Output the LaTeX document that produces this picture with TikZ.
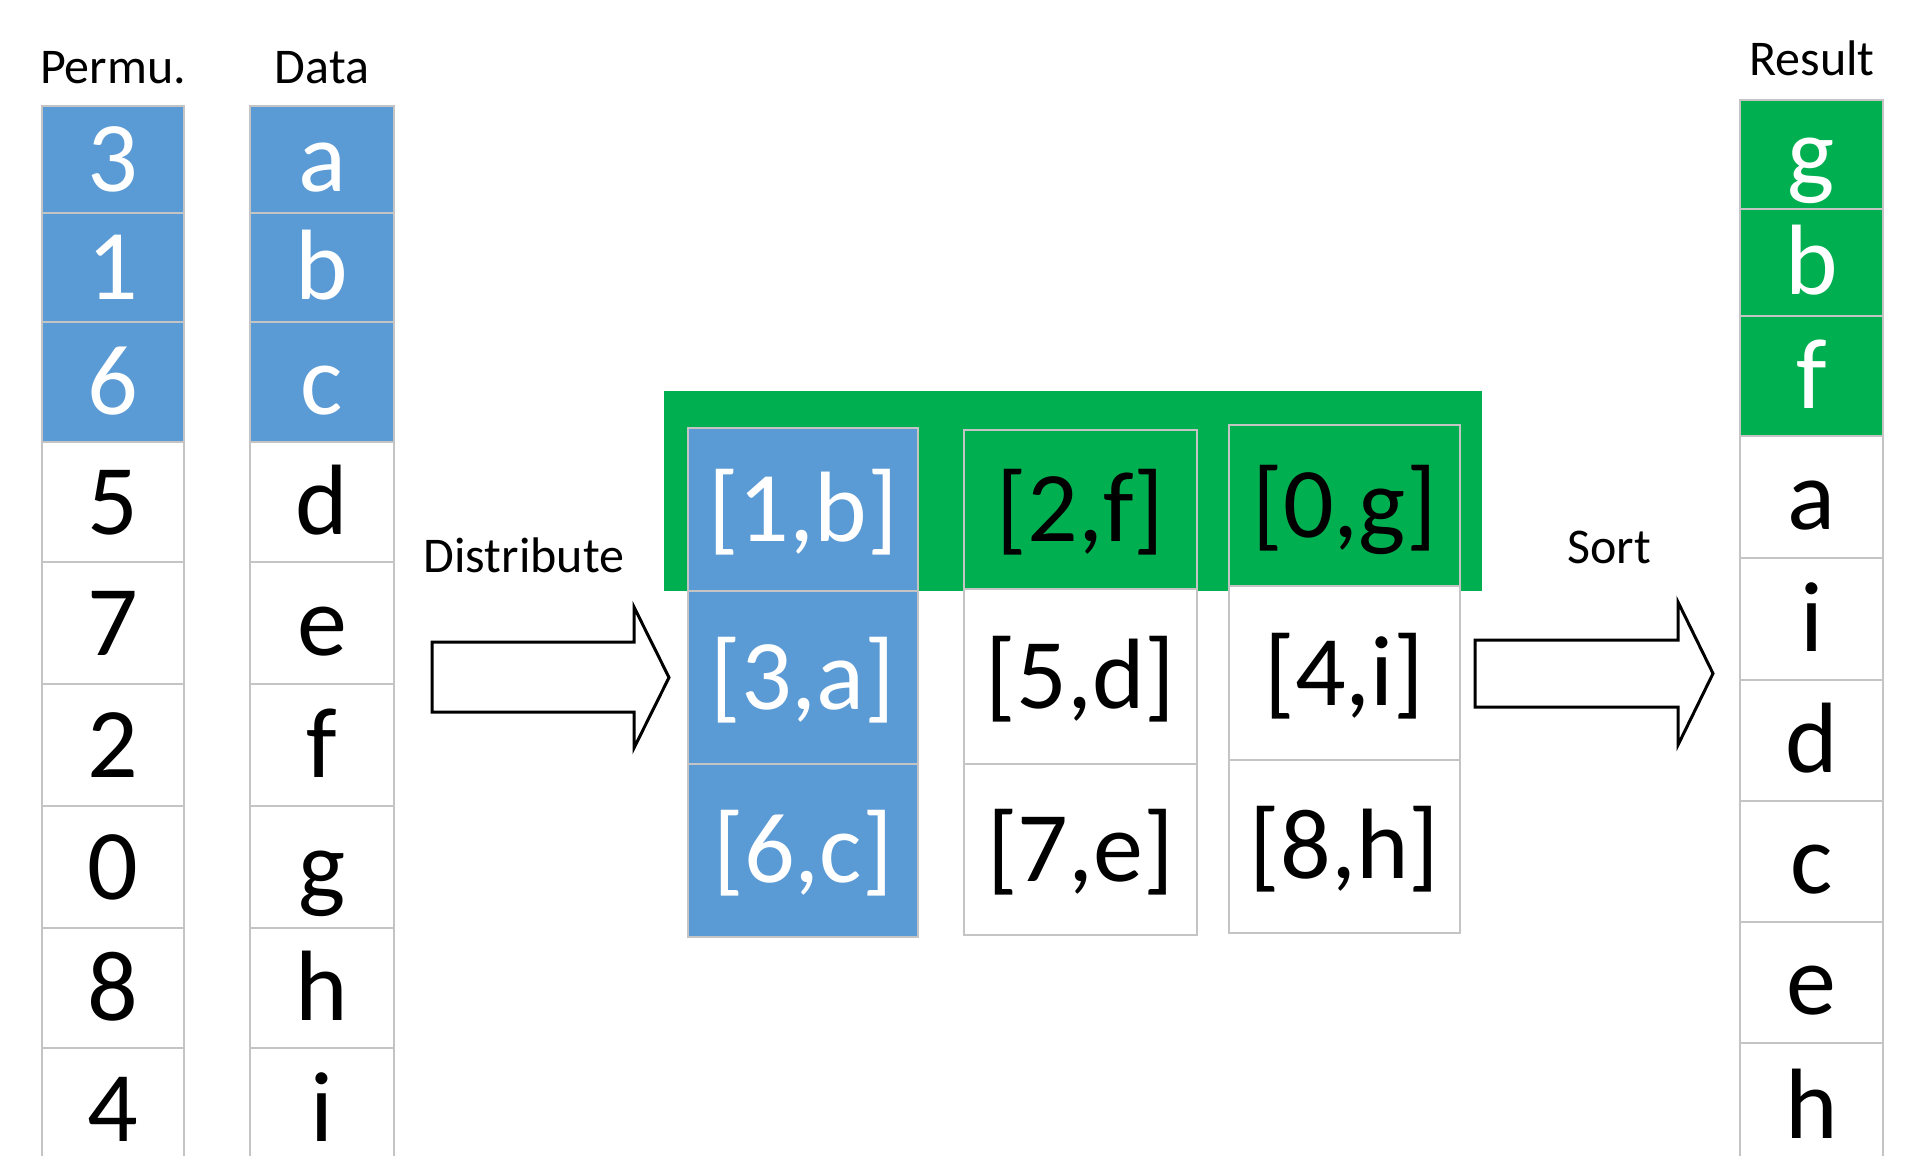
\documentclass[tikz,border=0pt]{standalone}
\usepackage{fontspec}
\setmainfont{Carlito}
\definecolor{cblue}{HTML}{5B9BD5}
\definecolor{cgreen}{HTML}{00B050}
\definecolor{cgray}{HTML}{C4C4C4}
\tikzset{
  cellbase/.style={draw=cgray, line width=2pt, inner sep=0pt, outer sep=0pt,
    text height=64pt, text depth=0pt, font=\fontsize{100}{110}\selectfont},
  bluecell/.style={fill=cblue, text=white},
  greencell/.style={fill=cgreen, text=white},
  greenblk/.style={fill=cgreen, text=black},
  whitecell/.style={fill=white, text=black},
  lbl/.style={font=\fontsize{50}{60}\selectfont, anchor=base, inner sep=0pt},
  blockarrow/.style={draw=black, line width=3pt, fill=white, line join=miter},
}
\newcommand\mycell[7]{\node[cellbase,#6,minimum width={#4pt-#2pt},minimum height={#5pt-#3pt}] (#1) at ({(#2+#4)/2},{(#3+#5)/2}) {#7};}
\begin{document}
\begin{tikzpicture}[x=1pt,y=-1pt]
\useasboundingbox (0,0) rectangle (1908,1156);
\clip (0,0) rectangle (1908,1156);
\fill[white] (0,0) rectangle (1908,1156);
% labels
\node[lbl] (lp) at (113,83) {Permu.};
\node[lbl] (ld) at (322,83) {Data};
\node[lbl] (lr) at (1812,75) {Result};
\node[lbl] (ldist) at (524,572) {Distribute};
\node[lbl] (lsort) at (1609,563) {Sort};
% Permu column
\mycell{p1}{42}{106}{184}{213}{bluecell}{3}
\mycell{p2}{42}{213}{184}{322}{bluecell}{1}
\mycell{p3}{42}{322}{184}{442}{bluecell}{6}
\mycell{p4}{42}{442}{184}{562}{whitecell}{5}
\mycell{p5}{42}{562}{184}{684}{whitecell}{7}
\mycell{p6}{42}{684}{184}{806}{whitecell}{2}
\mycell{p7}{42}{806}{184}{928}{whitecell}{0}
\mycell{p8}{42}{928}{184}{1048}{whitecell}{8}
\mycell{p9}{42}{1048}{184}{1170}{whitecell}{4}
% Data column
\mycell{d1}{250}{106}{394}{213}{bluecell}{a}
\mycell{d2}{250}{213}{394}{322}{bluecell}{b}
\mycell{d3}{250}{322}{394}{442}{bluecell}{c}
\mycell{d4}{250}{442}{394}{562}{whitecell}{d}
\mycell{d5}{250}{562}{394}{684}{whitecell}{e}
\mycell{d6}{250}{684}{394}{806}{whitecell}{f}
\mycell{d7}{250}{806}{394}{928}{whitecell}{g}
\mycell{d8}{250}{928}{394}{1048}{whitecell}{h}
\mycell{d9}{250}{1048}{394}{1170}{whitecell}{i}
% Result column
\mycell{r1}{1740}{100}{1883}{209}{greencell}{g}
\mycell{r2}{1740}{209}{1883}{316}{greencell}{b}
\mycell{r3}{1740}{316}{1883}{436}{greencell}{f}
\mycell{r4}{1740}{436}{1883}{558}{whitecell}{a}
\mycell{r5}{1740}{558}{1883}{680}{whitecell}{i}
\mycell{r6}{1740}{680}{1883}{801}{whitecell}{d}
\mycell{r7}{1740}{801}{1883}{922}{whitecell}{c}
\mycell{r8}{1740}{922}{1883}{1043}{whitecell}{e}
\mycell{r9}{1740}{1043}{1883}{1170}{whitecell}{h}
% green band
\fill[cgreen] (664,391) rectangle (1482,591);
% middle cells
\mycell{m11}{688}{428}{918}{591}{bluecell}{[1,b]}
\mycell{m12}{688}{591}{918}{764}{bluecell}{[3,a]}
\mycell{m13}{688}{764}{918}{937}{bluecell}{[6,c]}
\mycell{m21}{964}{430}{1197}{589}{greenblk}{[2,f]}
\mycell{m22}{964}{589}{1197}{764}{whitecell}{[5,d]}
\mycell{m23}{964}{764}{1197}{935}{whitecell}{[7,e]}
\mycell{m31}{1229}{425}{1460}{586}{greenblk}{[0,g]}
\mycell{m32}{1229}{586}{1460}{760}{whitecell}{[4,i]}
\mycell{m33}{1229}{760}{1460}{933}{whitecell}{[8,h]}
% block arrows
\draw[blockarrow] (432,642) -- (634,642) -- (634,607) -- (669,677.5) -- (634,748) -- (634,712) -- (432,712) -- cycle;
\draw[blockarrow] (1475,640) -- (1678,640) -- (1678,602) -- (1713,673.5) -- (1678,745) -- (1678,707) -- (1475,707) -- cycle;
\end{tikzpicture}
\end{document}
